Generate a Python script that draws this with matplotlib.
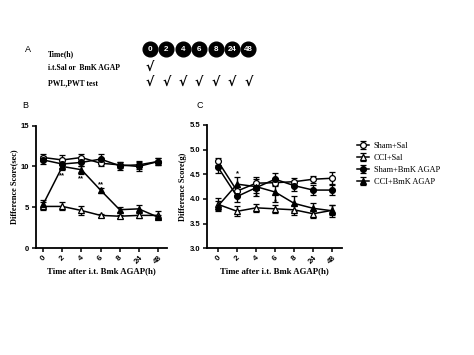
import matplotlib.pyplot as plt
import numpy as np

times = ['0', '2', '4', '6', '8', '24', '48']
groups = ['Sham+Sal', 'CCI+Sal', 'Sham+BmK AGAP', 'CCI+BmK AGAP']

# panel B : PWL (sec)
pwl_sham_sal = [11.1, 10.8, 11.1, 10.4, 10.2, 10.0, 10.6]
pwl_cci_sal = [5.1, 5.1, 4.6, 4.0, 3.9, 4.0, 4.0]
pwl_sham_bmk = [10.8, 10.3, 10.5, 10.9, 10.1, 10.2, 10.6]
pwl_cci_bmk = [5.4, 10.0, 9.6, 7.1, 4.7, 4.8, 3.8]
pwl_err_sham_sal = [0.4, 0.6, 0.4, 0.4, 0.4, 0.5, 0.4]
pwl_err_cci_sal = [0.5, 0.5, 0.5, 0.2, 0.2, 0.3, 0.5]
pwl_err_sham_bmk = [0.5, 0.5, 0.5, 0.6, 0.5, 0.5, 0.4]
pwl_err_cci_bmk = [0.5, 0.4, 0.5, 0.3, 0.3, 0.5, 0.3]

# panel C : PWT (g)
pwt_sham_sal = [4.76, 4.16, 4.32, 4.33, 4.35, 4.40, 4.42]
pwt_cci_sal = [3.89, 3.75, 3.82, 3.80, 3.78, 3.70, 3.77]
pwt_sham_bmk = [4.64, 4.05, 4.23, 4.40, 4.27, 4.18, 4.18]
pwt_cci_bmk = [3.86, 4.30, 4.25, 4.14, 3.91, 3.81, 3.76]
pwt_err_sham_sal = [0.08, 0.08, 0.08, 0.07, 0.07, 0.07, 0.12]
pwt_err_cci_sal = [0.12, 0.10, 0.08, 0.08, 0.10, 0.08, 0.10]
pwt_err_sham_bmk = [0.12, 0.12, 0.10, 0.12, 0.10, 0.10, 0.10]
pwt_err_cci_bmk = [0.10, 0.15, 0.20, 0.20, 0.15, 0.10, 0.12]

# significance marks (index, text, y)
stars_b = [(1, '**', 8.9), (2, '**', 8.5), (3, '**', 7.8)]
stars_c = [(1, '*', 4.52), (2, '*', 4.05), (3, '*', 3.95)]

row_labels = ['Time(h)', 'i.t.Sal or  BmK AGAP', 'PWL,PWT test']

serif = ['Liberation Serif', 'DejaVu Serif']
sans = ['Liberation Sans', 'DejaVu Sans']

styles = [dict(marker='o', mfc='white'), dict(marker='^', mfc='white'),
          dict(marker='o', mfc='black'), dict(marker='^', mfc='black')]


def draw_panel(ax, series, errs, stars, ylim, yticks, ylabel, xlim, yfmt):
    x = np.arange(len(times))
    handles = []
    for s, e, st, name in zip(series, errs, styles, groups):
        h = ax.errorbar(x, s, yerr=e, color='black', lw=1.1, elinewidth=1.0,
                        capsize=2.5, capthick=1.0, marker=st['marker'],
                        mfc=st['mfc'], mec='black', ms=4.2, mew=0.9, label=name)
        handles.append(h)
    for i, t, y in stars:
        ax.text(x[i], y, t, ha='center', va='center', fontsize=5.5,
                fontweight='bold', family=sans)
    ax.set_xlim(*xlim)
    ax.set_ylim(*ylim)
    ax.set_yticks(yticks)
    ax.set_yticklabels([yfmt.format(v) for v in yticks], fontsize=5.5,
                       fontweight='bold', family=sans)
    ax.set_xticks(x)
    ax.set_xticklabels(times, rotation=45, fontsize=5.8, fontweight='bold',
                       family=sans, ha='center', va='top')
    ax.spines['top'].set_visible(False)
    ax.spines['right'].set_visible(False)
    ax.spines['left'].set_linewidth(1.3)
    ax.spines['bottom'].set_linewidth(1.3)
    ax.tick_params(width=1.1, length=3, pad=1.5)
    ax.set_ylabel(ylabel, fontsize=6, fontweight='bold', family=serif, labelpad=2)
    ax.set_xlabel('Time after i.t. Bmk AGAP(h)', fontsize=6.3,
                  fontweight='bold', family=serif, labelpad=1)
    return handles


fig = plt.figure(figsize=(4.74, 3.55), dpi=100)

axb = fig.add_axes([0.0753, 0.3014, 0.2764, 0.3445])
draw_panel(axb, [pwl_sham_sal, pwl_cci_sal, pwl_sham_bmk, pwl_cci_bmk],
           [pwl_err_sham_sal, pwl_err_cci_sal, pwl_err_sham_bmk, pwl_err_cci_bmk],
           stars_b, (0, 15), [0, 5, 10, 15], 'Difference Score(sec)',
           (-0.4, 6.47), '{:.0f}')

axc = fig.add_axes([0.436, 0.3006, 0.285, 0.3474])
hs = draw_panel(axc, [pwt_sham_sal, pwt_cci_sal, pwt_sham_bmk, pwt_cci_bmk],
                [pwt_err_sham_sal, pwt_err_cci_sal, pwt_err_sham_bmk, pwt_err_cci_bmk],
                stars_c, (3.0, 5.5), [3.0, 3.5, 4.0, 4.5, 5.0, 5.5],
                'Difference Score(g)', (-0.6, 6.5), '{:.1f}')

fig.legend(hs, groups, loc='upper left', bbox_to_anchor=(0.738, 0.622),
           frameon=False, handlelength=1.4, handletextpad=0.6,
           labelspacing=0.5, prop={'family': serif, 'size': 6})

# panel A schedule, drawn in pixel coordinates of an overlay
ov = fig.add_axes([0, 0, 1, 1], zorder=-1)
ov.set_xlim(0, 474)
ov.set_ylim(355, 0)
ov.axis('off')

ov.text(28, 49, 'A', fontsize=6.5, family=sans, ha='center', va='center')
ov.text(25, 106, 'B', fontsize=6.5, family=sans, ha='center', va='center')
ov.text(200, 106, 'C', fontsize=6.5, family=sans, ha='center', va='center')

row_y = [54, 68, 83]
for lab, y in zip(row_labels, row_y):
    ov.text(48, y, lab, fontsize=5.5, fontweight='bold', family=serif,
            ha='left', va='center')

cx = 150 + 16.4 * np.arange(len(times))
ov.scatter(cx, [49] * len(times), s=112, color='black', zorder=2)
for xc, t in zip(cx, times):
    ov.text(xc, 49.5, t, color='white', fontsize=5.8, fontweight='bold',
            family=sans, ha='center', va='center', zorder=3)
ov.text(cx[0], 68, '√', fontsize=9, fontweight='bold', family=['DejaVu Sans'],
        ha='center', va='center')
for xc in cx:
    ov.text(xc, 83, '√', fontsize=9, fontweight='bold', family=['DejaVu Sans'],
            ha='center', va='center')

fig.savefig('out.png', dpi=100)
